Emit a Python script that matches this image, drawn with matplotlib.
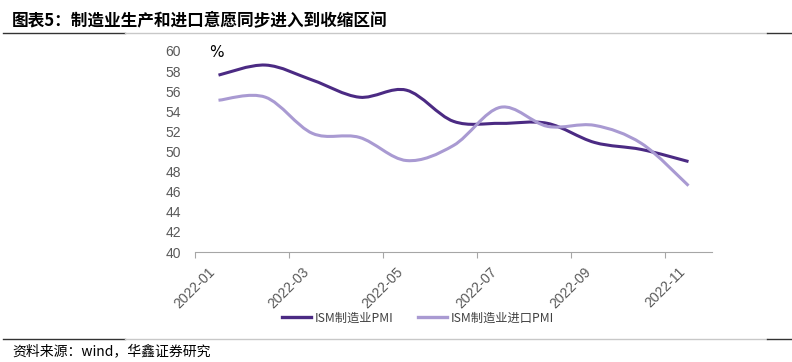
import numpy as np
import matplotlib
matplotlib.use('Agg')
import matplotlib.pyplot as plt
from matplotlib.path import Path
from matplotlib.patches import PathPatch
from matplotlib.lines import Line2D

plt.rcParams['font.family'] = ['Noto Sans CJK SC', 'DejaVu Sans']

months = ['2022-01', '2022-02', '2022-03', '2022-04', '2022-05', '2022-06',
          '2022-07', '2022-08', '2022-09', '2022-10', '2022-11']
ism_pmi = [57.6, 58.6, 57.1, 55.4, 56.1, 53.0, 52.8, 52.8, 50.9, 50.2, 49.0]
ism_import = [55.1, 55.4, 51.8, 51.4, 49.1, 50.6, 54.4, 52.5, 52.6, 50.8, 46.6]
names = ['ISM制造业PMI', 'ISM制造业进口PMI']
colors = ['#4b2a83', '#a99ad2']


def smooth_path(x, y):
    # excel-like smoothed line (catmull-rom as cubic bezier)
    pts = np.column_stack([x, y])
    verts = [pts[0]]
    codes = [Path.MOVETO]
    n = len(pts)
    for i in range(n - 1):
        p0 = pts[max(i - 1, 0)]
        p1 = pts[i]
        p2 = pts[i + 1]
        p3 = pts[min(i + 2, n - 1)]
        c1 = p1 + (p2 - p0) / 6.0
        c2 = p2 - (p3 - p1) / 6.0
        verts += [c1, c2, p2]
        codes += [Path.CURVE4] * 3
    return Path(verts, codes)


fig = plt.figure(figsize=(7.92, 3.62), dpi=100)
ax = fig.add_axes([195 / 792, 1 - 252 / 362, 517 / 792, 201 / 362])

x = np.arange(len(months)) + 0.5
handles = []
for vals, c, nm in zip([ism_pmi, ism_import], colors, names):
    ax.add_patch(PathPatch(smooth_path(x, np.array(vals)), fill=False,
                           edgecolor=c, lw=2.2, capstyle='butt'))
    handles.append(Line2D([], [], color=c, lw=2.4))

ax.set_xlim(0, len(months))
ax.set_ylim(40, 60)
ax.set_yticks(np.arange(40, 61, 2))
ax.set_xticks(np.arange(0, len(months), 2))
ax.set_xticklabels(months[::2], rotation=45, ha='center', va='top',
                   rotation_mode='default')
for s in ['top', 'right', 'left']:
    ax.spines[s].set_visible(False)
ax.spines['bottom'].set_color('#a6a6a6')
ax.tick_params(axis='x', colors='#a6a6a6', length=4, labelcolor='#595959',
               labelsize=10, pad=5)
ax.tick_params(axis='y', length=0, labelcolor='#595959', labelsize=10, pad=10)
for lab in ax.get_xticklabels() + ax.get_yticklabels():
    lab.set_family(['Liberation Sans Narrow', 'Liberation Sans', 'DejaVu Sans'])

ax.text(0.45, 59.9, '%', fontsize=11, color='black', ha='center', va='center',
        family=['DejaVu Sans'])

leg = fig.legend(handles, names, loc='center', bbox_to_anchor=(418 / 792, 1 - 318 / 362),
                 ncol=2, frameon=False, handlelength=2.4,
                 columnspacing=2.0, handletextpad=0.3,
                 prop={'family': ['Liberation Sans Narrow', 'Noto Sans CJK SC'], 'size': 8.8})
for t in leg.get_texts():
    t.set_color('#404040')

fig.text(12 / 792, 1 - 20 / 362, '图表5：制造业生产和进口意愿同步进入到收缩区间',
         fontsize=12, fontweight='bold', ha='left', va='center')
fig.text(12 / 792, 1 - 351 / 362, '资料来源：wind，华鑫证券研究',
         fontsize=10, ha='left', va='center')

# header / footer rules
for yy in [33, 339]:
    yf = 1 - yy / 362
    fig.add_artist(Line2D([3 / 792, 125 / 792], [yf, yf], color='#333333', lw=1))
    fig.add_artist(Line2D([125 / 792, 767 / 792], [yf, yf], color='#c8c8c8', lw=1))
    fig.add_artist(Line2D([767 / 792, 1.0], [yf, yf], color='#333333', lw=1))

fig.savefig('out.png', dpi=100)
